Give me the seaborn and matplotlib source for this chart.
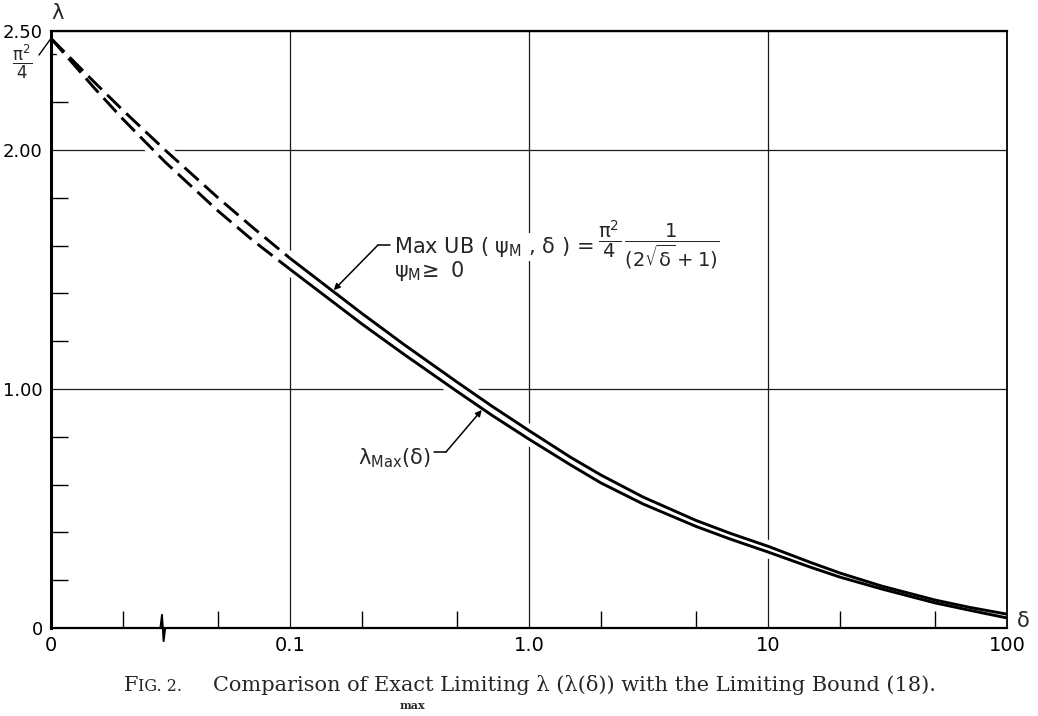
"""
Fig. 2 -- exact limiting lambda_max(delta) against the limiting bound (18).
Redrawn with seaborn / matplotlib, values read off the scanned figure.
"""

import numpy as np
import pandas as pd
import matplotlib
matplotlib.use("Agg")
import matplotlib.pyplot as plt
from matplotlib.ticker import FixedLocator, FixedFormatter, NullFormatter
import seaborn as sns


# ── values ─────────────────────────────────────────────────
# The delta axis is broken at its left end, which is labelled "0".
# That end sits one decade below 0.1, so it is stored as 0.01.
delta_dashed = [0.01, 0.015, 0.02, 0.03, 0.05, 0.07, 0.1]
ub_dashed    = [2.467, 2.289, 2.166, 2.000, 1.800, 1.675, 1.547]
lam_dashed   = [2.467, 2.265, 2.129, 1.950, 1.745, 1.621, 1.501]

delta_solid = [0.1, 0.2, 0.3, 0.5, 0.7, 1, 1.5, 2, 3, 5, 7, 10, 15, 20, 30, 50, 70, 100]
ub_solid    = [1.547, 1.316, 1.186, 1.029, 0.928, 0.826, 0.713, 0.640, 0.548, 0.450,
               0.395, 0.342, 0.275, 0.230, 0.175, 0.117, 0.086, 0.058]
lam_solid   = [1.501, 1.272, 1.145, 0.990, 0.890, 0.790, 0.681, 0.607, 0.519, 0.425,
               0.371, 0.318, 0.255, 0.213, 0.163, 0.105, 0.074, 0.042]

x_major        = [0.01, 0.1, 1, 10, 100]
x_major_labels = ["0", "0.1", "1.0", "10", "100"]
x_minor        = [0.02, 0.05, 0.2, 0.5, 2, 5, 20, 50]
y_major        = [0, 1.0, 2.0, 2.5]
y_major_labels = ["0", "1.00", "2.00", "2.50"]
y_minor        = [0.2, 0.4, 0.6, 0.8, 1.2, 1.4, 1.6, 1.8, 2.2, 2.4]

# where the two leader arrows touch the curves (delta)
ub_arrow_delta  = 0.151
lam_arrow_delta = 0.64

# ── style ──────────────────────────────────────────────────
sns.set_theme(style="white")
plt.rcParams["font.family"] = ["DejaVu Sans"]
plt.rcParams["mathtext.fontset"] = "dejavusans"
plt.rcParams["mathtext.default"] = "regular"

W, H = 1038, 716
AX_L, AX_R, AX_T, AX_B = 51, 1007, 30.5, 628


def axfrac(x, y):
    """Pixel position in the original picture -> axes fraction."""
    return (x - AX_L) / (AX_R - AX_L), (AX_B - y) / (AX_B - AX_T)


curves = pd.concat([
    pd.DataFrame({"delta": delta_dashed, "lam": ub_dashed, "curve": "ub", "part": "dashed"}),
    pd.DataFrame({"delta": delta_dashed, "lam": lam_dashed, "curve": "lam", "part": "dashed"}),
    pd.DataFrame({"delta": delta_solid, "lam": ub_solid, "curve": "ub", "part": "solid"}),
    pd.DataFrame({"delta": delta_solid, "lam": lam_solid, "curve": "lam", "part": "solid"}),
], ignore_index=True)

fig = plt.figure(figsize=(W / 100, H / 100), dpi=100)
ax = fig.add_axes([AX_L / W, 1 - AX_B / H, (AX_R - AX_L) / W, (AX_B - AX_T) / H])

# white halo first, so the grid gets the drafting gaps around the curves
for _, grp in curves.groupby(["curve", "part"]):
    sns.lineplot(data=grp, x="delta", y="lam", color="white", linewidth=9,
                 estimator=None, sort=False, ax=ax, zorder=2)
for (_, part), grp in curves.groupby(["curve", "part"]):
    ls = (0, (6.5, 2.6)) if part == "dashed" else "-"
    sns.lineplot(data=grp, x="delta", y="lam", color="black", linewidth=2.1,
                 linestyle=ls, solid_capstyle="butt", dash_capstyle="butt",
                 solid_joinstyle="round", estimator=None, sort=False, ax=ax, zorder=3)

# ── axes ───────────────────────────────────────────────────
ax.set_xscale("log")
ax.set_xlim(0.01, 100)
ax.set_ylim(0, 2.5)
ax.set_xlabel("")
ax.set_ylabel("")

ax.xaxis.set_major_locator(FixedLocator(x_major))
ax.xaxis.set_major_formatter(FixedFormatter(x_major_labels))
ax.xaxis.set_minor_locator(FixedLocator(x_minor))
ax.xaxis.set_minor_formatter(NullFormatter())
ax.yaxis.set_major_locator(FixedLocator(y_major))
ax.yaxis.set_major_formatter(FixedFormatter(y_major_labels))
ax.yaxis.set_minor_locator(FixedLocator(y_minor))

ax.tick_params(which="major", length=0, labelsize=14, colors="black")
ax.tick_params(axis="x", which="major", pad=6)
ax.tick_params(axis="y", which="major", pad=6, labelsize=13)
ax.tick_params(which="minor", direction="in", length=12.5, width=1.0,
               color="black", bottom=True, left=True, top=False, right=False)

ax.grid(True, which="major", color="#1a1a1a", linewidth=0.9)
ax.set_axisbelow(True)

for side, lw in [("left", 2.2), ("bottom", 1.6), ("top", 1.6), ("right", 1.3)]:
    ax.spines[side].set_visible(True)
    ax.spines[side].set_color("black")
    ax.spines[side].set_linewidth(lw)

# axis break squiggle on the delta axis
bx = axfrac(162, 0)[0]
dx = 1.6 / (AX_R - AX_L)
ax.plot([bx - 2 * dx, bx - dx, bx, bx + dx, bx + 2 * dx],
        [0, 0.0, 0.022, -0.022, 0],
        transform=ax.transAxes, color="black", lw=1.4, clip_on=False, zorder=4)

# axis names
ax.text(*axfrac(58, 13), "λ", fontsize=15, ha="center", va="center",
        transform=ax.transAxes)
ax.text(*axfrac(1023, 621), "δ", fontsize=15, ha="center", va="center",
        transform=ax.transAxes)

# pi^2/4 mark at the start of both curves
ax.text(*axfrac(22, 62), r"$\dfrac{\pi^2}{4}$", fontsize=12, ha="center",
        va="center", transform=ax.transAxes)
ax.annotate("", xy=(delta_dashed[0], ub_dashed[0]), xycoords="data",
            xytext=axfrac(39, 55), textcoords="axes fraction",
            arrowprops=dict(arrowstyle="-", color="black", lw=1.0,
                            shrinkA=0, shrinkB=0))

# ── labels with leaders ────────────────────────────────────
lead = dict(arrowstyle="-|>", color="black", lw=1.1, mutation_scale=9,
            shrinkA=0, shrinkB=1)
white_box = dict(facecolor="white", edgecolor="none", pad=1.5)

ub_tip = np.interp(np.log10(ub_arrow_delta), np.log10(delta_solid), ub_solid)
ax.annotate("", xy=(ub_arrow_delta, ub_tip), xycoords="data",
            xytext=axfrac(378, 245), textcoords="axes fraction", arrowprops=lead)
x0, y0 = axfrac(378, 245)
x1, _ = axfrac(390, 245)
ax.plot([x0, x1], [y0, y0], transform=ax.transAxes, color="black", lw=1.1)
ub_text = ax.text(*axfrac(394, 253), r"Max UB ( $\psi_{M}$ , $\delta$ ) =",
                  fontsize=15, ha="left", va="baseline", transform=ax.transAxes,
                  bbox=white_box, zorder=5)
ax.annotate(r"$\dfrac{\pi^2}{4}\,\dfrac{1}{(2\sqrt{\delta}+1)}$",
            xy=(1, 0.5), xycoords=ub_text, xytext=(3, 1), textcoords="offset points",
            fontsize=14, ha="left", va="center", bbox=white_box, zorder=5)
ax.text(*axfrac(394, 277), r"$\psi_{M}\!\geq$ 0", fontsize=15, ha="left",
        va="baseline", transform=ax.transAxes, bbox=white_box, zorder=5)

lam_tip = np.interp(np.log10(lam_arrow_delta), np.log10(delta_solid), lam_solid)
ax.annotate("", xy=(lam_arrow_delta, lam_tip), xycoords="data",
            xytext=axfrac(446, 452), textcoords="axes fraction", arrowprops=lead)
x0, y0 = axfrac(434, 452)
x1, _ = axfrac(446, 452)
ax.plot([x0, x1], [y0, y0], transform=ax.transAxes, color="black", lw=1.1)
ax.text(*axfrac(431, 458), r"$\lambda_{Max}(\delta)$", fontsize=15, ha="right",
        va="center", transform=ax.transAxes, bbox=white_box, zorder=5)

# ── caption ────────────────────────────────────────────────
serif = ["DejaVu Serif"]
cap_y = 1 - 691 / H
fig.text(124 / W, cap_y, "F", fontsize=15, family=serif, va="baseline")
fig.text(138 / W, cap_y, "IG. 2.", fontsize=11.5, family=serif, va="baseline")
fig.text(213 / W, cap_y,
         "Comparison of Exact Limiting λ (λ(δ)) with the Limiting Bound (18).",
         fontsize=15, family=serif, va="baseline")
fig.text(412 / W, 1 - 709 / H, "max", fontsize=8, family=serif,
         fontweight="bold", ha="center", va="baseline")

fig.savefig("out.png", dpi=100, facecolor="white")
plt.close(fig)
